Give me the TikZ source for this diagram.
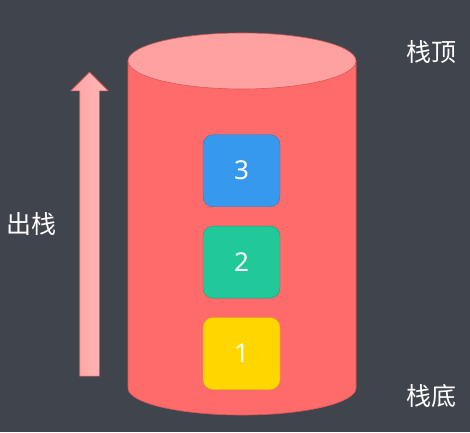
\documentclass[tikz,border=0pt]{standalone}
\usepackage{fontspec}
\setmainfont{Noto Sans}
\newfontfamily\cjk{Noto Sans CJK SC}
\usetikzlibrary{positioning, shapes.arrows}

\definecolor{bgdark}{HTML}{40444C}
\definecolor{stackbody}{HTML}{FF6B6B}
\definecolor{stacktop}{HTML}{FFA1A1}
\definecolor{stackline}{HTML}{D95858}
\definecolor{blueitem}{HTML}{3799EE}
\definecolor{greenitem}{HTML}{21C999}
\definecolor{yellowitem}{HTML}{FFD600}

\begin{document}
\begin{tikzpicture}[
			x=1pt, y=1pt,
			item/.style={rounded corners=10pt, minimum width=77pt, minimum height=72pt,
				text=white, font=\fontsize{26}{26}\selectfont, inner sep=0pt},
			label/.style={text=white, font=\cjk\fontsize{25}{25}\selectfont, inner sep=0pt},
			node distance=19pt
			]
			\fill[bgdark] (0,0) rectangle (470,432);
			\useasboundingbox (0,0) rectangle (470,432);
			% stack body
			\filldraw[fill=stackbody, draw=stackline, line width=0.6pt]
				(128,371) -- (128,44) arc[start angle=180, end angle=360, x radius=114, y radius=27]
				-- (356,371) -- cycle;
			\filldraw[fill=stacktop, draw=stackline, line width=0.6pt]
				(242,371) ellipse [x radius=114, y radius=28];
			% items
			\node[item, fill=yellowitem, draw=yellowitem!85!black] (one) at (241.5,78.5) {1};
			\node[item, fill=greenitem, draw=greenitem!80!black, above=of one] (two) {2};
			\node[item, fill=blueitem, draw=blueitem!80!black, above=of two] (three) {3};
			% pop arrow
			\node[single arrow, rotate=90, minimum height=304pt, inner sep=9.5pt,
				single arrow head extend=9pt, draw=stackline, line width=0.6pt,
				left color=stackbody!62!white, right color=stackbody!48!white] (pop) at (89.5,203) {};
			\node[label] (poplabel) at (31,208) {出栈};
			\node[label] (toplabel) at (431,380) {栈顶};
			\node[label] (bottomlabel) at (431,36) {栈底};
		\end{tikzpicture}
\end{document}
